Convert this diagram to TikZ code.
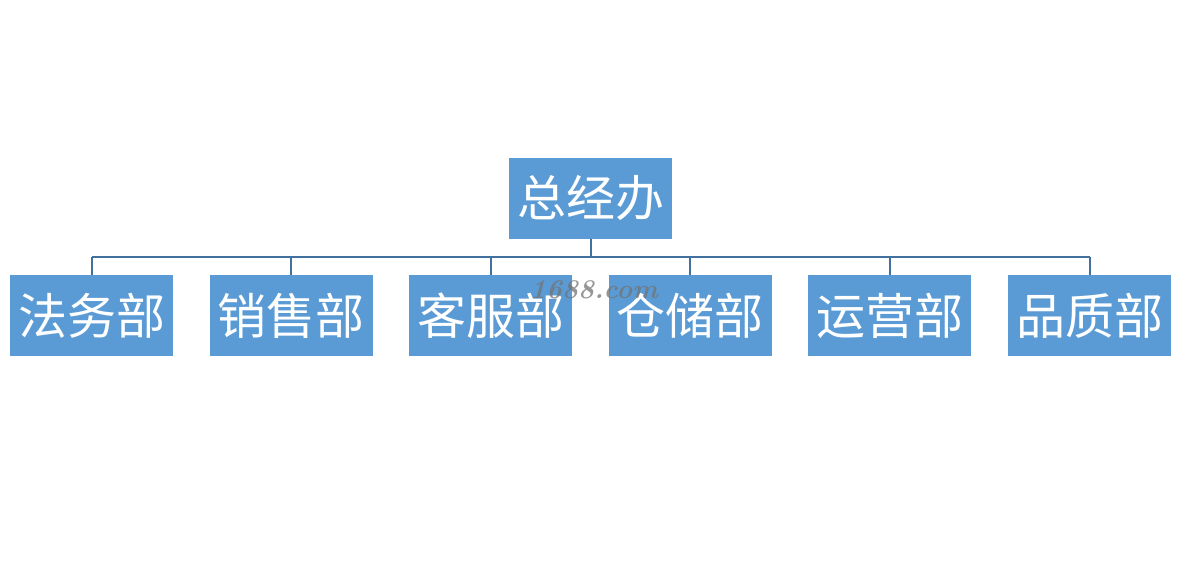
\documentclass[tikz,border=0pt]{standalone}
\usepackage{fontspec}
\newfontfamily\cjk{Noto Sans CJK SC}
\usetikzlibrary{positioning}
\definecolor{boxblue}{RGB}{91,155,213}
\definecolor{lineblue}{RGB}{65,113,156}

\begin{document}
\begin{tikzpicture}[x=1pt,y=-1pt]
    \tikzset{
      dept/.style={fill=boxblue, text=white, minimum width=163pt, minimum height=81pt, inner sep=0pt, font=\cjk\fontsize{49}{49}\selectfont},
      link/.style={draw=lineblue, line width=2pt}
    }
    \useasboundingbox (0,0) rectangle (1177,575);
    \node[dept] (head) at (590.5,198) {总经办};
    \coordinate (bus) at (590.5,257);
    \foreach \name/\txt [count=\i from 0] in {fawu/法务部, xiaoshou/销售部, kefu/客服部, cangchu/仓储部, yunying/运营部, pinzhi/品质部} {
      \node[dept] (\name) at (91.5+199.6*\i,315.5) {\txt};
      \draw[link] (\name.north) -- (\name.north |- bus);
    }
    \draw[link] (head.south) -- (bus);
    \draw[link] (fawu.north |- bus) -- (pinzhi.north |- bus);
    % watermark
    \node[text=black!55, font=\bfseries\itshape\fontsize{27}{27}\selectfont, opacity=0.75] (mark) at (594,290) {1688.com};
\end{tikzpicture}
\end{document}
